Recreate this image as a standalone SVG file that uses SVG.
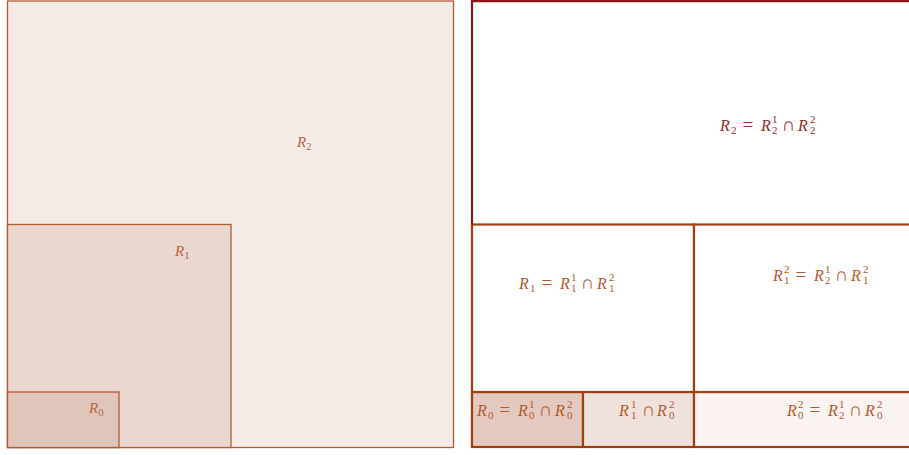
<svg xmlns="http://www.w3.org/2000/svg" width="909" height="455" viewBox="0 0 909 455">
<style>
.lbl{font-family:"Liberation Serif","DejaVu Serif",serif;font-size:16px;font-style:italic}
.ll{font-family:"Liberation Serif","DejaVu Serif",serif;font-size:15px;font-style:italic}
.n{font-style:normal;font-size:19px}
.s{font-size:11px;font-style:normal}
.left{fill:#b8653f}
.dr{fill:#8f2a2a}
.or{fill:#b4572c}
.lrect{stroke:#b5592f;stroke-width:1.3}
.orr{stroke:#a53c0d;stroke-width:2.2}
</style>
<rect width="909" height="455" fill="#ffffff"/>
<g id="left">
<g id="R2"><rect class="lrect" x="7.5" y="1" width="446" height="446.5" fill="#f4ebe7"/>
<text class="ll left" x="297" y="147">R<tspan class="s" dy="3">2</tspan></text></g>
<g id="R1"><rect class="lrect" x="7.5" y="224.5" width="223.5" height="223" fill="#e9d7d0"/>
<text class="ll left" x="175" y="256">R<tspan class="s" dy="3">1</tspan></text></g>
<g id="R0"><rect class="lrect" x="7.5" y="392" width="111.5" height="55.5" fill="#e0c5ba"/>
<text class="ll left" x="89" y="413">R<tspan class="s" dy="3">0</tspan></text></g>
</g>
<g id="right">
<g id="C00"><rect class="orr" x="472" y="392" width="111" height="55" fill="#e3c9bf"/>
<text class="lbl or" y="416"><tspan x="477">R</tspan><tspan class="s" x="488" y="419">0</tspan><tspan class="n" x="499.5" y="416">=</tspan><tspan x="518">R</tspan><tspan class="s" x="529" y="408">1</tspan><tspan class="s" x="529" y="419">0</tspan><tspan class="n" x="538.5" y="416">∩</tspan><tspan x="555">R</tspan><tspan class="s" x="567" y="408">2</tspan><tspan class="s" x="567" y="419">0</tspan></text></g>
<g id="C10"><rect class="orr" x="583" y="392" width="111" height="55" fill="#efe1dc"/>
<text class="lbl or" y="416"><tspan x="619">R</tspan><tspan class="s" x="631" y="408">1</tspan><tspan class="s" x="631" y="419">1</tspan><tspan class="n" x="641.5" y="416">∩</tspan><tspan x="657">R</tspan><tspan class="s" x="669" y="408">2</tspan><tspan class="s" x="669" y="419">0</tspan></text></g>
<g id="C20"><rect class="orr" x="694" y="392" width="218" height="55" fill="#faf3f1"/>
<text class="lbl or" y="416"><tspan x="787">R</tspan><tspan class="s" x="798" y="408">2</tspan><tspan class="s" x="798" y="419">0</tspan><tspan class="n" x="809.5" y="416">=</tspan><tspan x="828">R</tspan><tspan class="s" x="839" y="408">1</tspan><tspan class="s" x="839" y="419">2</tspan><tspan class="n" x="848.5" y="416">∩</tspan><tspan x="865">R</tspan><tspan class="s" x="877" y="408">2</tspan><tspan class="s" x="877" y="419">0</tspan></text></g>
<g id="C1L"><rect class="orr" x="472" y="224.5" width="222" height="167.5" fill="#ffffff"/>
<text class="lbl or" y="289"><tspan x="519">R</tspan><tspan class="s" x="530" y="292">1</tspan><tspan class="n" x="541.5" y="289">=</tspan><tspan x="560">R</tspan><tspan class="s" x="571" y="281">1</tspan><tspan class="s" x="571" y="292">1</tspan><tspan class="n" x="580.5" y="289">∩</tspan><tspan x="597">R</tspan><tspan class="s" x="609" y="281">2</tspan><tspan class="s" x="609" y="292">1</tspan></text></g>
<g id="C1R"><rect class="orr" x="694" y="224.5" width="218" height="167.5" fill="#ffffff"/>
<text class="lbl or" y="281"><tspan x="773">R</tspan><tspan class="s" x="784" y="273">2</tspan><tspan class="s" x="784" y="284">1</tspan><tspan class="n" x="795.5" y="281">=</tspan><tspan x="814">R</tspan><tspan class="s" x="825" y="273">1</tspan><tspan class="s" x="825" y="284">2</tspan><tspan class="n" x="834.5" y="281">∩</tspan><tspan x="851">R</tspan><tspan class="s" x="863" y="273">2</tspan><tspan class="s" x="863" y="284">1</tspan></text></g>
<g id="C2"><path d="M472,224.5 V1.2 H912" fill="none" stroke="#8e1616" stroke-width="2.2"/>
<text class="lbl dr" y="131"><tspan x="720">R</tspan><tspan class="s" x="731" y="134">2</tspan><tspan class="n" x="742.5" y="131">=</tspan><tspan x="761">R</tspan><tspan class="s" x="772" y="123">1</tspan><tspan class="s" x="772" y="134">2</tspan><tspan class="n" x="781.5" y="131">∩</tspan><tspan x="798">R</tspan><tspan class="s" x="810" y="123">2</tspan><tspan class="s" x="810" y="134">2</tspan></text></g>
</g>
<g id="connectors"/>
</svg>
